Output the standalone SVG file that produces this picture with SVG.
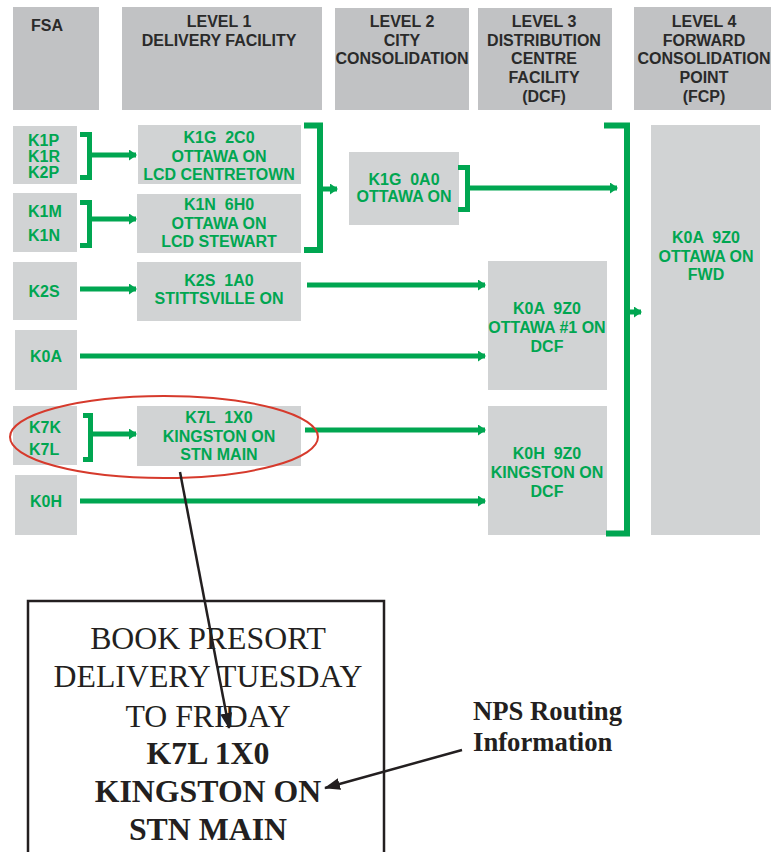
<svg xmlns="http://www.w3.org/2000/svg" width="775" height="852" viewBox="0 0 775 852">
<style>
.hdr{fill:#c1c2c4}
.nd{fill:#d1d3d4}
.ht{font-family:"Liberation Sans",Arial,sans-serif;font-weight:bold;font-size:16px;fill:#2a2a2a;text-anchor:middle}
.gt{font-family:"Liberation Sans",Arial,sans-serif;font-weight:bold;font-size:16px;fill:#00a651;text-anchor:middle;white-space:pre}
.gs{text-anchor:start}
.gl{fill:none;stroke:#00a651;stroke-width:5}
.gb{fill:none;stroke:#00a651;stroke-width:6}
.bt{font-family:"Liberation Serif","Times New Roman",serif;font-size:31.8px;fill:#231f20;text-anchor:middle}
.bb{font-weight:bold}
.bl{fill:none;stroke:#231f20;stroke-width:2.5}
.nt{font-family:"Liberation Serif","Times New Roman",serif;font-weight:bold;font-size:26.7px;fill:#231f20}
</style>
<defs>
<marker id="ga" markerUnits="userSpaceOnUse" markerWidth="8" markerHeight="11" refX="7" refY="5.5" orient="auto" viewBox="0 0 8 11">
<path d="M0,0 L8,5.5 L0,11 z" fill="#00a651"/>
</marker>
<marker id="ba" markerUnits="userSpaceOnUse" markerWidth="16" markerHeight="12" refX="15" refY="6" orient="auto" viewBox="0 0 16 12">
<path d="M0,0 L16,6 L0,12 z" fill="#231f20"/>
</marker>
</defs>
<rect width="775" height="852" fill="#fff"/>

<g id="hdr-fsa"><rect class="hdr" x="13" y="7" width="86" height="103"/><text class="ht" x="47" y="31">FSA</text></g>
<g id="hdr-l1"><rect class="hdr" x="122" y="7" width="200" height="103"/><text class="ht" x="219" y="27">LEVEL 1</text><text class="ht" x="219" y="46">DELIVERY FACILITY</text></g>
<g id="hdr-l2"><rect class="hdr" x="335" y="8" width="134" height="102"/><text class="ht" x="402" y="27">LEVEL 2</text><text class="ht" x="402" y="46">CITY</text><text class="ht" x="402" y="64">CONSOLIDATION</text></g>
<g id="hdr-l3"><rect class="hdr" x="478" y="8" width="134" height="102"/><text class="ht" x="544" y="27">LEVEL 3</text><text class="ht" x="544" y="46">DISTRIBUTION</text><text class="ht" x="544" y="64">CENTRE</text><text class="ht" x="544" y="83">FACILITY</text><text class="ht" x="544" y="102">(DCF)</text></g>
<g id="hdr-l4"><rect class="hdr" x="634" y="7" width="137" height="103"/><text class="ht" x="704" y="27">LEVEL 4</text><text class="ht" x="704" y="46">FORWARD</text><text class="ht" x="704" y="64">CONSOLIDATION</text><text class="ht" x="704" y="83">POINT</text><text class="ht" x="704" y="102">(FCP)</text></g>

<g id="fsa-k1p"><rect class="nd" x="13" y="126" width="64" height="58"/><text class="gt gs" x="28" y="146">K1P</text><text class="gt gs" x="28" y="162">K1R</text><text class="gt gs" x="28" y="178">K2P</text></g>
<g id="fsa-k1m"><rect class="nd" x="13" y="193" width="64" height="59"/><text class="gt gs" x="28" y="217">K1M</text><text class="gt gs" x="28" y="241">K1N</text></g>
<g id="fsa-k2s"><rect class="nd" x="13" y="262" width="64" height="58"/><text class="gt" x="44" y="297">K2S</text></g>
<g id="fsa-k0a"><rect class="nd" x="15" y="330" width="62" height="60"/><text class="gt" x="46" y="362">K0A</text></g>
<g id="fsa-k7k"><rect class="nd" x="13" y="406" width="64" height="59"/><text class="gt gs" x="29" y="433">K7K</text><text class="gt gs" x="29" y="455">K7L</text></g>
<g id="fsa-k0h"><rect class="nd" x="15" y="475" width="62" height="60"/><text class="gt" x="46" y="507">K0H</text></g>

<g id="df-k1g2c0"><rect class="nd" x="138" y="125" width="163" height="59"/><text class="gt" x="219" y="143">K1G  2C0</text><text class="gt" x="219" y="162">OTTAWA ON</text><text class="gt" x="219" y="180">LCD CENTRETOWN</text></g>
<g id="df-k1n6h0"><rect class="nd" x="137" y="194" width="164" height="59"/><text class="gt" x="219" y="210">K1N  6H0</text><text class="gt" x="219" y="229">OTTAWA ON</text><text class="gt" x="219" y="247">LCD STEWART</text></g>
<g id="df-k2s1a0"><rect class="nd" x="137" y="262" width="164" height="59"/><text class="gt" x="219" y="286">K2S  1A0</text><text class="gt" x="219" y="304">STITTSVILLE ON</text></g>
<g id="df-k7l1x0"><rect class="nd" x="137" y="406" width="164" height="60"/><text class="gt" x="219" y="423">K7L  1X0</text><text class="gt" x="219" y="442">KINGSTON ON</text><text class="gt" x="219" y="460">STN MAIN</text></g>
<g id="cc-k1g0a0"><rect class="nd" x="349" y="152" width="110" height="73"/><text class="gt" x="404" y="185">K1G  0A0</text><text class="gt" x="404" y="202">OTTAWA ON</text></g>
<g id="dcf-k0a9z0"><rect class="nd" x="488" y="261" width="119" height="129"/><text class="gt" x="547" y="314">K0A  9Z0</text><text class="gt" x="547" y="333">OTTAWA #1 ON</text><text class="gt" x="547" y="352">DCF</text></g>
<g id="dcf-k0h9z0"><rect class="nd" x="488" y="406" width="119" height="129"/><text class="gt" x="547" y="459">K0H  9Z0</text><text class="gt" x="547" y="478">KINGSTON ON</text><text class="gt" x="547" y="497">DCF</text></g>
<g id="fcp-k0a9z0"><rect class="nd" x="651" y="125" width="109" height="410"/><text class="gt" x="706" y="243">K0A  9Z0</text><text class="gt" x="706" y="262">OTTAWA ON</text><text class="gt" x="706" y="280">FWD</text></g>

<g id="connectors">
<path class="gl" d="M80,134.5 H89.5 V177.5 H80"/>
<path class="gl" d="M89.5,155 H136" marker-end="url(#ga)"/>
<path class="gl" d="M80,202.5 H89.5 V245.5 H80"/>
<path class="gl" d="M89.5,219 H136" marker-end="url(#ga)"/>
<path class="gb" d="M304,125.5 H320 V250 H304"/>
<path class="gl" d="M320,189 H337" marker-end="url(#ga)"/>
<path class="gl" d="M458,167.5 H467.5 V209.5 H458"/>
<path class="gl" d="M467.5,188 H617" marker-end="url(#ga)"/>
<path class="gb" d="M604,125.5 H627 V533.5 H606"/>
<path class="gl" d="M627,312 H641" marker-end="url(#ga)"/>
<path class="gl" d="M80,289 H136" marker-end="url(#ga)"/>
<path class="gl" d="M307,285 H485" marker-end="url(#ga)"/>
<path class="gl" d="M80,356 H485" marker-end="url(#ga)"/>
<path class="gl" d="M83,415.5 H90.5 V459.5 H83"/>
<path class="gl" d="M90.5,434 H136" marker-end="url(#ga)"/>
<path class="gl" d="M305,430 H485" marker-end="url(#ga)"/>
<path class="gl" d="M80,501 H485" marker-end="url(#ga)"/>
</g>

<ellipse id="highlight" cx="164" cy="437" rx="154" ry="41" fill="none" stroke="#d63a2c" stroke-width="2"/>

<g id="label-box">
<rect x="28" y="601" width="356" height="270" fill="none" stroke="#231f20" stroke-width="2.5"/>
<text class="bt" x="208" y="649">BOOK PRESORT</text>
<text class="bt" x="208" y="687">DELIVERY TUESDAY</text>
<text class="bt" x="208" y="727">TO FRIDAY</text>
<text class="bt bb" x="208" y="764">K7L 1X0</text>
<text class="bt bb" x="208" y="802">KINGSTON ON</text>
<text class="bt bb" x="208" y="840">STN MAIN</text>
</g>

<g id="nps-note">
<text class="nt" x="473" y="720">NPS Routing</text>
<text class="nt" x="473" y="751">Information</text>
</g>

<g id="callouts">
<path class="bl" d="M180,472 L229,728" marker-end="url(#ba)"/>
<path class="bl" d="M462,750 L325,788" marker-end="url(#ba)"/>
</g>
</svg>
